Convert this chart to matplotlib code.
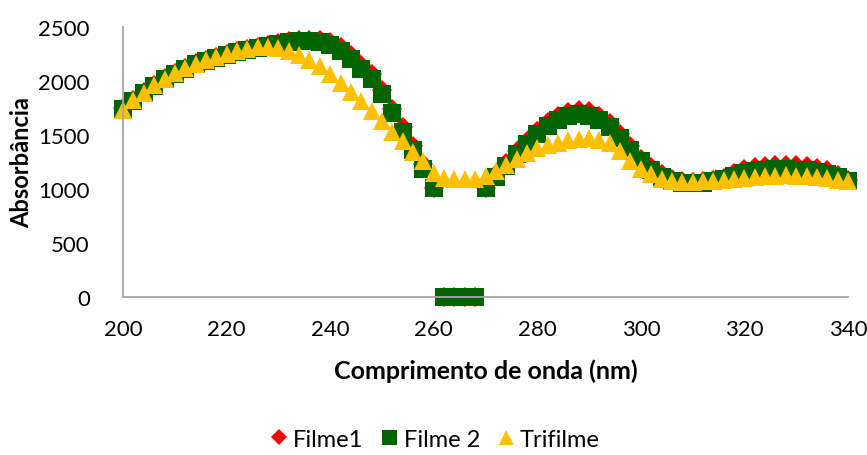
import matplotlib
matplotlib.use("Agg")
import matplotlib.pyplot as plt

plt.rcParams['font.family'] = ['Lato', 'DejaVu Sans']

# wavelength (nm), one point every 2 nm
wavelength = list(range(200, 341, 2))

filme2 = [1740, 1815, 1889, 1954, 2020, 2065, 2110, 2155, 2185, 2215,
          2240, 2265, 2287, 2305, 2325, 2342, 2358, 2368, 2370, 2360,
          2330, 2280, 2200, 2110, 2020, 1880, 1700, 1530, 1360, 1190,
          1010, 0, 0, 0, 0, 1010, 1110, 1215, 1320, 1415,
          1505, 1580, 1640, 1675, 1690, 1680, 1640, 1570, 1472, 1362,
          1255, 1175, 1115, 1078, 1060, 1056, 1058, 1070, 1090, 1120,
          1150, 1170, 1180, 1185, 1185, 1180, 1175, 1160, 1140, 1110,
          1070]

filme1 = [1748, 1823, 1897, 1962, 2028, 2073, 2118, 2163, 2193, 2223,
          2248, 2273, 2295, 2313, 2333, 2350, 2366, 2376, 2378, 2380,
          2360, 2315, 2240, 2150, 2060, 1920, 1740, 1570, 1400, 1230,
          1010, 0, 0, 0, 0, 1010, 1140, 1245, 1350, 1445,
          1535, 1620, 1680, 1715, 1730, 1720, 1680, 1610, 1512, 1395,
          1280, 1200, 1135, 1090, 1072, 1068, 1070, 1082, 1102, 1150,
          1185, 1205, 1215, 1222, 1222, 1218, 1212, 1198, 1172, 1128,
          1085]

trifilme = [1735, 1826, 1887, 1958, 2020, 2075, 2115, 2155, 2190, 2222,
            2250, 2275, 2295, 2310, 2310, 2300, 2275, 2240, 2195, 2135,
            2060, 1985, 1895, 1810, 1720, 1625, 1530, 1440, 1345, 1255,
            1150, 1105, 1090, 1090, 1095, 1120, 1170, 1225, 1275, 1330,
            1375, 1405, 1430, 1450, 1465, 1470, 1455, 1425, 1350, 1260,
            1190, 1135, 1090, 1072, 1068, 1068, 1070, 1075, 1085, 1095,
            1105, 1115, 1120, 1125, 1128, 1125, 1120, 1110, 1098, 1085,
            1070]

fig = plt.figure(figsize=(8.67, 4.56), dpi=100)
ax = fig.add_axes([0.142, 0.346, 0.836, 0.593])

ax.plot(wavelength, filme1, linestyle='none', marker='D', ms=10.5,
        color='#ff0000', mew=0, clip_on=False, label='Filme1')
ax.plot(wavelength, filme2, linestyle='none', marker='s', ms=13.5,
        color='#006400', mew=0, clip_on=False, label='Filme 2')
ax.plot(wavelength, trifilme, linestyle='none', marker='^', ms=13.5,
        color='#ffc000', mew=0, clip_on=False, label='Trifilme')

ax.set_xlim(200, 340)
ax.set_ylim(0, 2500)
ax.set_xticks(range(200, 341, 20))
ax.set_yticks(range(0, 2501, 500))
ax.tick_params(length=0, labelsize=16)
ax.tick_params(axis='x', pad=16)
ax.tick_params(axis='y', pad=24)

for s in ['top', 'right']:
    ax.spines[s].set_visible(False)
for s in ['left', 'bottom']:
    ax.spines[s].set_color('#a6a6a6')
    ax.spines[s].set_linewidth(1.3)

ax.set_xlabel('Comprimento de onda (nm)', fontsize=18, fontweight='bold', labelpad=14)
ax.set_ylabel('Absorbância', fontsize=17, fontweight='bold', labelpad=4)

fig.legend(loc='lower center', ncol=3, frameon=False, fontsize=17,
           bbox_to_anchor=(0.5, -0.035), handletextpad=0.1, columnspacing=0.6,
           markerscale=0.8, handlelength=1.0)

fig.savefig('out.png', dpi=100)
